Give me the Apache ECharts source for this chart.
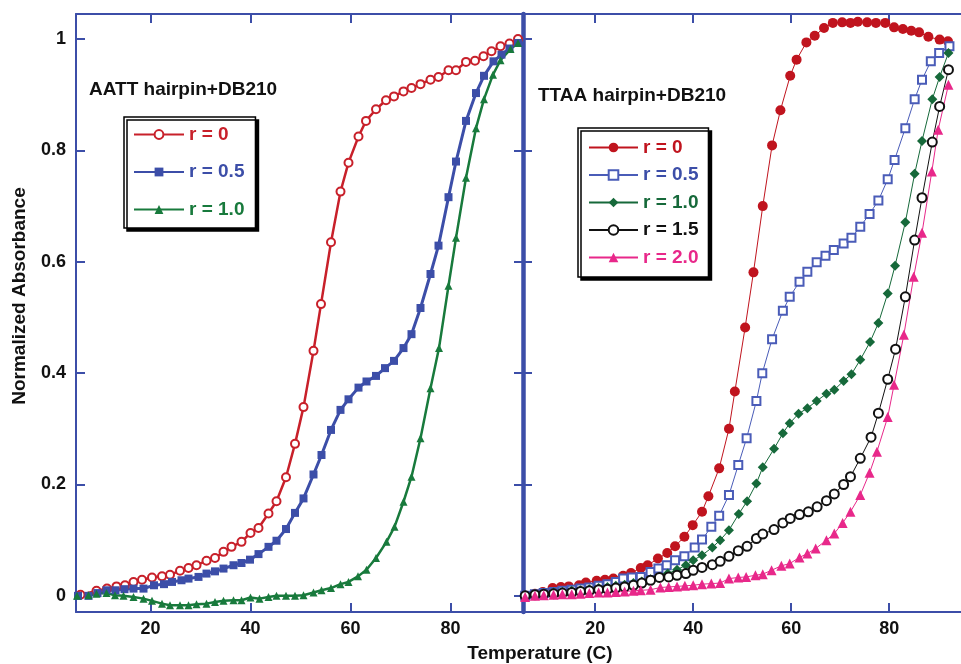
<!DOCTYPE html>
<html>
<head>
<meta charset="utf-8">
<script src="https://cdn.jsdelivr.net/npm/echarts@6/dist/echarts.min.js"></script>
<style>
  html, body { margin: 0; padding: 0; background: #fff; }
  #chart { width: 961px; height: 664px; }
</style>
</head>
<body>
<div id="chart"></div>
<script>
// tick values
var tempTicks = [20, 40, 60, 80];
var absTicks = [0, 0.2, 0.4, 0.6, 0.8, 1];

// AATT hairpin+DB210  [temperature, normalized absorbance]
var aattR0 = [[6,0.002],[9.2,0.009],[11.3,0.013],[13.2,0.017],[14.9,0.019],[16.6,0.025],[18.3,0.029],[20.3,0.033],[22.3,0.035],[23.9,0.038],[25.9,0.045],[27.6,0.050],[29.2,0.055],[31.2,0.063],[32.9,0.068],[34.6,0.079],[36.2,0.088],[38.2,0.097],[40.0,0.113],[41.6,0.122],[43.6,0.148],[45.2,0.170],[47.1,0.213],[48.9,0.273],[50.6,0.339],[52.6,0.440],[54.1,0.524],[56.1,0.635],[58.0,0.726],[59.6,0.778],[61.6,0.825],[63.1,0.853],[65.1,0.874],[67.1,0.890],[68.7,0.897],[70.6,0.906],[72.2,0.912],[74.0,0.919],[76.0,0.927],[77.6,0.932],[79.6,0.944],[81.1,0.944],[83.1,0.959],[84.9,0.961],[86.6,0.969],[88.2,0.978],[90.0,0.987],[91.8,0.992],[93.5,1.000]];
var aattR05 = [[5.5,0.000],[7.6,0.000],[9.4,0.005],[11.2,0.010],[13.0,0.010],[14.8,0.012],[16.6,0.013],[18.6,0.013],[20.7,0.019],[22.7,0.021],[24.3,0.025],[26.2,0.028],[27.6,0.031],[29.6,0.034],[31.2,0.040],[32.9,0.044],[34.6,0.049],[36.6,0.055],[38.2,0.059],[39.9,0.065],[41.6,0.075],[43.6,0.088],[45.2,0.099],[47.1,0.120],[48.9,0.149],[50.6,0.175],[52.6,0.218],[54.2,0.253],[56.1,0.298],[58.0,0.334],[59.6,0.353],[61.6,0.374],[63.2,0.385],[65.1,0.395],[66.9,0.409],[68.7,0.422],[70.6,0.445],[72.2,0.470],[74.0,0.517],[76.0,0.578],[77.6,0.629],[79.6,0.716],[81.1,0.780],[83.1,0.853],[85.1,0.903],[86.7,0.934],[88.6,0.960],[90.2,0.972],[91.8,0.983],[93.5,0.993]];
var aattR10 = [[5.3,0.000],[7.6,0.001],[9.2,0.004],[11.2,0.005],[12.9,0.001],[14.6,0.000],[16.6,-0.002],[18.6,-0.005],[20.3,-0.009],[22.3,-0.014],[23.9,-0.017],[25.9,-0.017],[27.6,-0.017],[29.2,-0.015],[31.2,-0.014],[32.9,-0.011],[34.6,-0.009],[36.6,-0.008],[38.2,-0.008],[40.0,-0.003],[41.8,-0.005],[43.6,-0.002],[45.2,0.000],[47.1,0.000],[48.9,0.000],[50.6,0.001],[52.6,0.006],[54.2,0.010],[56.1,0.014],[58.0,0.021],[59.6,0.025],[61.5,0.035],[63.2,0.047],[65.1,0.068],[67.2,0.097],[68.8,0.124],[70.6,0.169],[72.2,0.214],[74.0,0.283],[76.0,0.373],[77.7,0.445],[79.6,0.557],[81.1,0.643],[83.1,0.751],[85.1,0.840],[86.7,0.892],[88.5,0.936],[90.0,0.962],[92.0,0.982],[93.5,0.993]];

// TTAA hairpin+DB210
var ttaaR0 = [[5.7,0.000],[7.7,0.004],[9.3,0.007],[11.3,0.014],[13.0,0.016],[14.6,0.017],[16.7,0.019],[18.1,0.024],[20.3,0.027],[22.0,0.029],[23.7,0.031],[25.7,0.036],[27.3,0.041],[29.3,0.050],[30.7,0.055],[32.8,0.067],[34.7,0.077],[36.3,0.089],[38.2,0.106],[39.9,0.127],[41.8,0.151],[43.1,0.179],[45.3,0.229],[47.3,0.300],[48.5,0.367],[50.6,0.482],[52.3,0.581],[54.2,0.700],[56.1,0.809],[57.8,0.872],[59.8,0.934],[61.1,0.963],[63.1,0.994],[64.8,1.006],[66.7,1.020],[68.5,1.029],[70.4,1.030],[72.1,1.029],[73.6,1.031],[75.5,1.030],[77.3,1.029],[79.2,1.029],[81.0,1.021],[82.8,1.018],[84.5,1.015],[86.1,1.012],[88.0,1.004],[90.3,0.999],[92.0,0.996]];
var ttaaR05 = [[5.7,0.000],[7.7,0.003],[9.5,0.005],[11.5,0.007],[13.3,0.009],[15.2,0.011],[17.0,0.013],[18.8,0.015],[20.7,0.018],[22.5,0.021],[24.2,0.025],[25.7,0.031],[27.5,0.033],[29.3,0.034],[31.3,0.043],[32.9,0.049],[34.6,0.055],[36.3,0.064],[38.2,0.071],[40.3,0.087],[41.8,0.101],[43.7,0.124],[45.3,0.144],[47.3,0.181],[49.2,0.235],[50.9,0.283],[52.9,0.350],[54.1,0.400],[56.1,0.461],[58.3,0.512],[59.7,0.537],[61.7,0.564],[63.3,0.582],[65.2,0.599],[67.0,0.611],[68.7,0.621],[70.7,0.633],[72.3,0.643],[74.1,0.663],[76.0,0.686],[77.8,0.710],[79.7,0.748],[81.1,0.783],[83.3,0.840],[85.2,0.892],[86.7,0.927],[88.5,0.960],[90.2,0.975],[92.3,0.987]];
var ttaaR10 = [[5.7,0.000],[7.7,0.002],[9.5,0.004],[11.5,0.006],[13.3,0.007],[15.2,0.009],[17.0,0.010],[18.8,0.012],[20.7,0.014],[22.5,0.016],[24.2,0.018],[26.0,0.020],[27.8,0.023],[29.5,0.026],[31.3,0.030],[33.0,0.034],[34.8,0.040],[36.7,0.047],[38.5,0.055],[40.0,0.064],[41.8,0.073],[43.9,0.087],[45.5,0.100],[47.3,0.118],[49.3,0.147],[51.0,0.170],[52.9,0.202],[54.2,0.231],[56.5,0.264],[58.3,0.292],[59.7,0.310],[61.5,0.327],[63.3,0.337],[65.2,0.350],[67.2,0.363],[68.8,0.370],[70.7,0.386],[72.3,0.398],[74.1,0.424],[76.1,0.456],[77.8,0.490],[79.7,0.543],[81.2,0.593],[83.3,0.671],[85.2,0.758],[86.7,0.817],[88.8,0.892],[90.3,0.932],[92.1,0.975]];
var ttaaR15 = [[5.7,0.000],[7.7,0.002],[9.5,0.003],[11.5,0.004],[13.3,0.005],[15.2,0.006],[17.0,0.008],[18.8,0.009],[20.7,0.011],[22.5,0.012],[24.2,0.014],[26.0,0.016],[27.8,0.019],[29.5,0.023],[31.3,0.028],[33.1,0.033],[35.0,0.034],[36.7,0.037],[38.5,0.040],[40.0,0.046],[41.8,0.051],[43.9,0.056],[45.5,0.062],[47.3,0.071],[49.2,0.081],[51.0,0.089],[52.9,0.103],[54.2,0.111],[56.5,0.119],[58.3,0.131],[59.8,0.139],[61.7,0.146],[63.5,0.151],[65.3,0.160],[67.2,0.171],[68.8,0.183],[70.7,0.200],[72.1,0.214],[74.1,0.247],[76.3,0.285],[77.8,0.328],[79.7,0.389],[81.3,0.443],[83.3,0.537],[85.2,0.639],[86.7,0.715],[88.8,0.815],[90.3,0.879],[92.1,0.945]];
var ttaaR20 = [[5.7,-0.002],[7.7,0.000],[9.5,0.001],[11.5,0.002],[13.3,0.003],[15.2,0.003],[17.0,0.004],[18.8,0.005],[20.7,0.006],[22.5,0.006],[24.2,0.007],[26.0,0.008],[27.8,0.009],[29.3,0.010],[31.3,0.011],[33.3,0.015],[35.0,0.016],[36.7,0.017],[38.3,0.018],[40.0,0.019],[41.8,0.021],[43.7,0.022],[45.5,0.023],[47.3,0.031],[49.2,0.033],[50.8,0.034],[52.7,0.037],[54.2,0.039],[56.0,0.046],[58.0,0.054],[59.7,0.058],[61.7,0.069],[63.3,0.076],[65.0,0.085],[67.2,0.100],[68.8,0.112],[70.5,0.131],[72.1,0.151],[74.1,0.181],[76.0,0.221],[77.5,0.259],[79.7,0.321],[81.0,0.379],[83.0,0.469],[85.0,0.573],[86.7,0.652],[88.7,0.762],[90.0,0.837],[92.1,0.918]];

var axisBlue = '#3c4ea8';
var fontFam = '"Liberation Sans", Arial, Helvetica, sans-serif';

var chartDom = document.getElementById('chart');
var chart = echarts.init(chartDom, null, { renderer: 'canvas' });

function xAx(grid, pos, min, labels) {
    return {
        type: 'value', gridIndex: grid, position: pos,
        min: min, max: min + 89.4,
        axisLine: { onZero: false, lineStyle: { color: axisBlue, width: 2 } },
        axisTick: { inside: true, length: 9, customValues: tempTicks, lineStyle: { color: axisBlue, width: 2 } },
        axisLabel: { show: labels, customValues: tempTicks, margin: 8,
            color: '#111', fontSize: 18, fontWeight: 'bold', fontFamily: fontFam },
        splitLine: { show: false }
    };
}
function yAx(grid, pos, labels, lw) {
    return {
        type: 'value', gridIndex: grid, position: pos,
        min: -0.029, max: 1.045,
        axisLine: { onZero: false, lineStyle: { color: axisBlue, width: lw } },
        axisTick: { inside: true, length: 9, customValues: absTicks, lineStyle: { color: axisBlue, width: 2 } },
        axisLabel: { show: labels, customValues: absTicks, margin: 10,
            formatter: function (v) { return String(+(+v).toFixed(1)); },
            color: '#111', fontSize: 18, fontWeight: 'bold', fontFamily: fontFam },
        splitLine: { show: false }
    };
}

function mk(name, data, grid, color, symbol, size, lw) {
    return {
        name: name, type: 'line', data: data,
        xAxisIndex: grid === 0 ? 0 : 2, yAxisIndex: grid === 0 ? 0 : 2,
        symbol: symbol, symbolSize: size, showAllSymbol: true,
        lineStyle: { color: color, width: lw },
        itemStyle: { color: color },
        emphasis: { disabled: true }
    };
}

var legendText = { fontSize: 19, fontWeight: 'bold', fontFamily: fontFam };

var option = {
    animation: false,
    backgroundColor: '#fff',
    grid: [
        { left: 76, top: 14, width: 447, height: 598 },
        { left: 523, top: 14, width: 447, height: 598 }
    ],
    xAxis: [
        xAx(0, 'bottom', 5.1, true),
        xAx(0, 'top', 5.1, false),
        xAx(1, 'bottom', 5.26, true),
        xAx(1, 'top', 5.26, false)
    ],
    yAxis: [
        yAx(0, 'left', true, 2),
        yAx(0, 'right', false, 2),
        yAx(1, 'left', false, 4.5)
    ],
    legend: [
        {
            left: 124, top: 117, orient: 'vertical',
            padding: [8, 11, 9, 9], itemGap: 18.5, itemWidth: 50, itemHeight: 11,
            backgroundColor: '#fff', borderColor: '#000', borderWidth: 1.5,
            shadowColor: '#000', shadowOffsetX: 3, shadowOffsetY: 3, shadowBlur: 0,
            selectedMode: false, textStyle: legendText,
            formatter: function (n) { return n.split('|')[1]; },
            data: [
                { name: 'A|r = 0', textStyle: { color: '#c8202a' } },
                { name: 'A|r = 0.5', textStyle: { color: '#3c4ea8' } },
                { name: 'A|r = 1.0', textStyle: { color: '#187a3c' } }
            ]
        },
        {
            left: 578, top: 128, orient: 'vertical',
            padding: [10, 10, 10, 10], itemGap: 8.5, itemWidth: 49, itemHeight: 12,
            backgroundColor: '#fff', borderColor: '#000', borderWidth: 1.5,
            shadowColor: '#000', shadowOffsetX: 3, shadowOffsetY: 3, shadowBlur: 0,
            selectedMode: false, textStyle: legendText,
            formatter: function (n) { return n.split('|')[1]; },
            data: [
                { name: 'T|r = 0', textStyle: { color: '#c0141e' } },
                { name: 'T|r = 0.5', textStyle: { color: '#3c4ea8' } },
                { name: 'T|r = 1.0', textStyle: { color: '#16693a' } },
                { name: 'T|r = 1.5', textStyle: { color: '#111' } },
                { name: 'T|r = 2.0', textStyle: { color: '#e8288a' } }
            ]
        }
    ],
    graphic: [
        { type: 'text', left: 89, top: 80, style: { text: 'AATT hairpin+DB210', fill: '#111',
            font: 'bold 19px ' + fontFam } },
        { type: 'text', left: 538, top: 86, style: { text: 'TTAA hairpin+DB210', fill: '#111',
            font: 'bold 19px ' + fontFam } },
        { type: 'text', x: 540, y: 654, style: { text: 'Temperature (C)', fill: '#111',
            font: 'bold 19px ' + fontFam, align: 'center', verticalAlign: 'middle' } },
        { type: 'text', x: 20, y: 296, rotation: Math.PI / 2, style: { text: 'Normalized Absorbance', fill: '#111',
            font: 'bold 19px ' + fontFam, align: 'center', verticalAlign: 'middle' } }
    ],
    series: [
        mk('A|r = 0', aattR0, 0, '#c8202a', 'emptyCircle', 8, 2.5),
        mk('A|r = 0.5', aattR05, 0, '#3c4ea8', 'rect', 8, 3),
        mk('A|r = 1.0', aattR10, 0, '#187a3c', 'triangle', 8, 2.5),
        mk('T|r = 0', ttaaR0, 1, '#c0141e', 'circle', 10, 1),
        mk('T|r = 0.5', ttaaR05, 1, '#4a5cb8', 'emptyRect', 8, 1),
        mk('T|r = 1.0', ttaaR10, 1, '#16693a', 'diamond', 10, 1),
        mk('T|r = 1.5', ttaaR15, 1, '#111111', 'emptyCircle', 9, 1),
        mk('T|r = 2.0', ttaaR20, 1, '#e8288a', 'triangle', 10, 1)
    ]
};

chart.setOption(option);
</script>
</body>
</html>
